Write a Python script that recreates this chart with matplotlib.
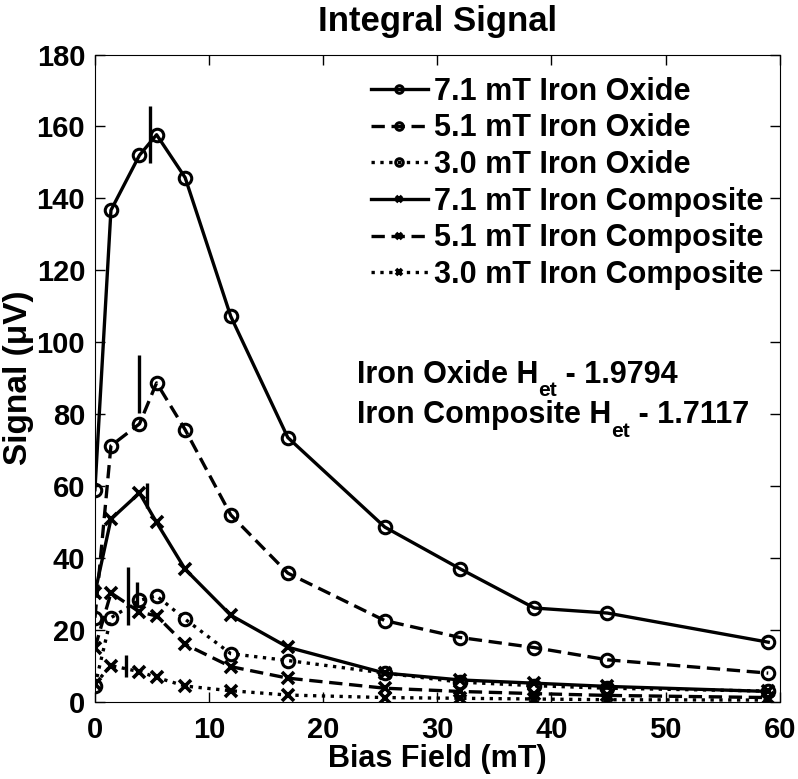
import matplotlib
matplotlib.use('Agg')
import matplotlib.pyplot as plt

plt.rcParams['font.family'] = ['Liberation Sans', 'DejaVu Sans']
plt.rcParams['font.weight'] = 'bold'

# bias field values (mT)
bias = [0, 1.4, 3.9, 5.4, 7.9, 11.9, 16.9, 25.4, 32.0, 38.5, 44.9, 59.0]

# signal (uV) per series
oxide_71 = [59, 136.7, 152, 157.7, 145.8, 107.2, 73.5, 48.6, 37.0, 26.1, 24.7, 16.6]
oxide_51 = [23.4, 71.2, 77.3, 88.7, 75.7, 52.0, 35.8, 22.6, 17.9, 15.1, 11.7, 8.0]
oxide_30 = [4.5, 23.4, 28.2, 29.5, 23.0, 13.4, 11.5, 8.0, 5.5, 4.5, 3.8, 3.0]
comp_71 = [30.3, 50.8, 58.1, 49.9, 36.9, 24.1, 15.2, 8.0, 6.1, 5.2, 4.3, 2.9]
comp_51 = [15.0, 30.3, 25.0, 23.9, 16.0, 9.8, 6.6, 3.8, 2.9, 2.3, 1.8, 1.2]
comp_30 = [5.0, 10.1, 8.4, 6.8, 4.4, 3.1, 1.9, 1.2, 1.0, 0.8, 0.6, 0.5]

labels = ['7.1 mT Iron Oxide', '5.1 mT Iron Oxide', '3.0 mT Iron Oxide',
          '7.1 mT Iron Composite', '5.1 mT Iron Composite', '3.0 mT Iron Composite']

# H_et marker bars: x position, bottom, top
bar_x = [4.82, 3.88, 3.71, 4.58, 2.92, 2.72]
bar_lo = [149.9, 80.3, 27.0, 53.9, 21.4, 6.9]
bar_hi = [165.8, 96.5, 33.2, 60.8, 37.6, 13.1]

# annotation text pieces
het_names = ['Iron Oxide H', 'Iron Composite H']
het_values = [' - 1.9794', ' - 1.7117']

fig = plt.figure(figsize=(7.98, 7.79), dpi=100)
ax = fig.add_axes([0.119, 0.099, 0.858, 0.831])

series = [oxide_71, oxide_51, oxide_30, comp_71, comp_51, comp_30]
styles = ['-', (0, (4, 2)), ':', '-', (0, (4, 2)), ':']
markers = ['o', 'o', 'o', 'x', 'x', 'x']

for ys, ls, mk, lab in zip(series, styles, markers, labels):
    if mk == 'o':
        ax.plot(bias, ys, linestyle=ls, color='black', lw=2.4, marker=mk,
                ms=9, mew=2.2, mfc='none', label=lab)
    else:
        ax.plot(bias, ys, linestyle=ls, color='black', lw=2.4, marker=mk,
                ms=8, mew=2.6, label=lab)

ax.vlines(bar_x, bar_lo, bar_hi, colors='black', lw=2.4)

ax.set_xlim(0, 60)
ax.set_ylim(0, 180)
ax.set_xticks(range(0, 61, 10))
ax.set_yticks(range(0, 181, 20))
ax.tick_params(direction='in', top=True, right=True, length=7, width=1,
               labelsize=21)
ax.tick_params(axis='x', pad=10)
ax.tick_params(axis='y', pad=7)
for lab in ax.get_xticklabels() + ax.get_yticklabels():
    lab.set_fontweight('bold')

ax.set_title('Integral Signal', fontsize=25, fontweight='bold', pad=17)
ax.set_xlabel('Bias Field (mT)', fontsize=22, fontweight='bold', labelpad=0)
ax.set_ylabel('Signal (μV)', fontsize=24, fontweight='bold', labelpad=2)

leg = ax.legend(loc='upper right', frameon=False, fontsize=22,
                handlelength=1.85, handletextpad=0.2, labelspacing=0.22,
                markerscale=0.6, borderpad=0, borderaxespad=0,
                bbox_to_anchor=(0.976, 0.966))
for t in leg.get_texts():
    t.set_fontweight('bold')

# H_et text with a hanging subscript
for name, val, yb in zip(het_names, het_values, [0.493, 0.431]):
    t1 = ax.text(0.3825, yb, name, transform=ax.transAxes, fontsize=22,
                 fontweight='bold', va='baseline', ha='left')
    sub = ax.annotate('et', xy=(1, 0), xycoords=t1, xytext=(0, 6),
                      textcoords='offset points', va='top', ha='left',
                      fontsize=15, fontweight='bold')
    ax.annotate(val, xy=(1, 0), xycoords=(sub, t1), va='bottom', ha='left',
                fontsize=22, fontweight='bold')

fig.savefig('out.png', dpi=100)
